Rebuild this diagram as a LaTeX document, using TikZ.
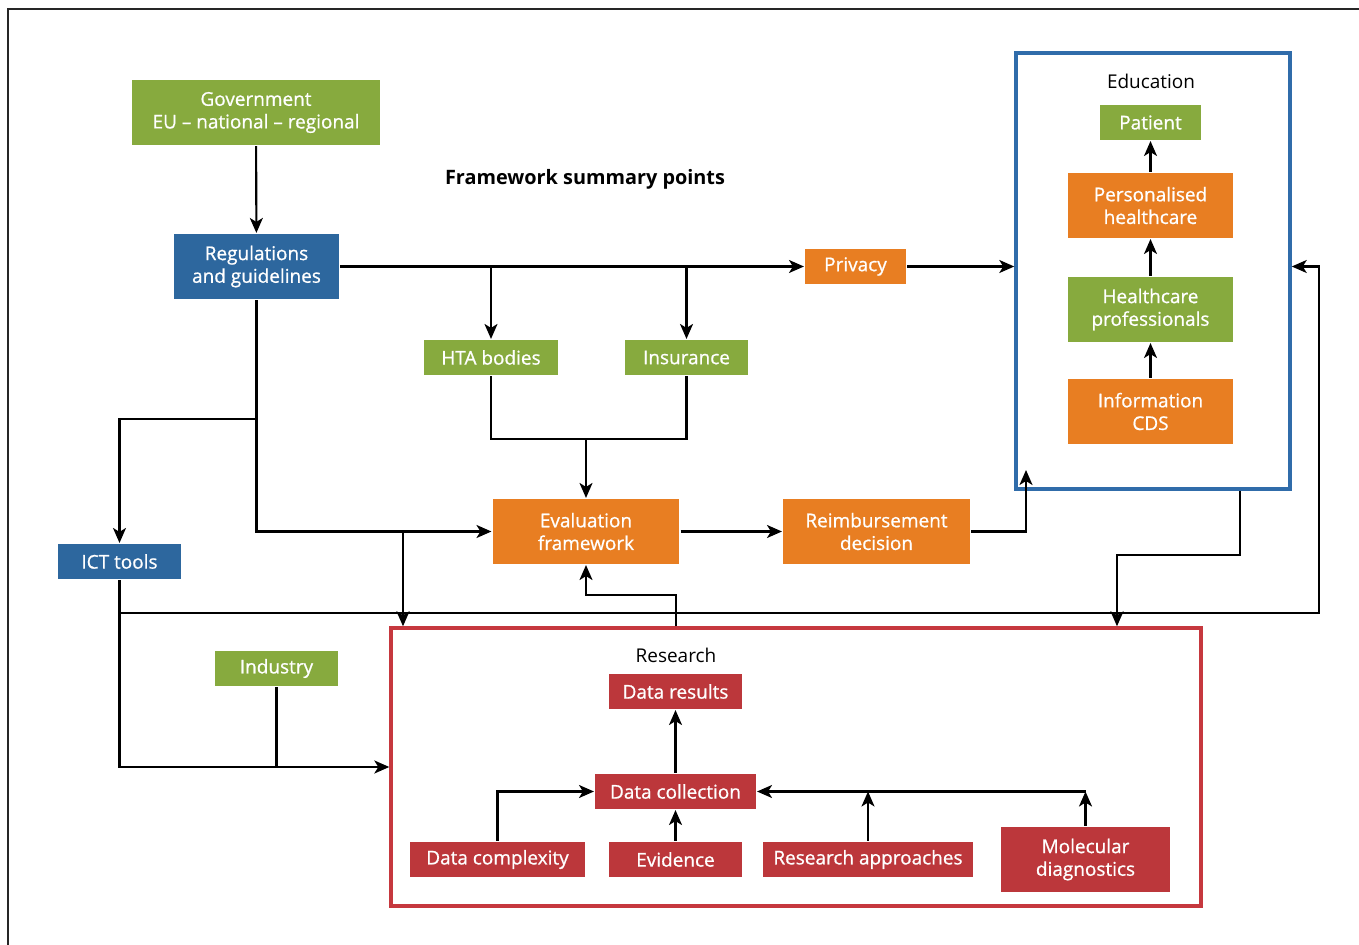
\documentclass[tikz,border=0pt]{standalone}
\usepackage{fontspec}
\setmainfont{Open Sans}
\newfontfamily\semibf{Open Sans}[FakeBold=0.8, Ligatures=TeX]
\usetikzlibrary{arrows.meta}
\usepackage{xcolor}
\definecolor{fwgreen}{RGB}{135,170,62}
\definecolor{fwblue}{RGB}{45,103,158}
\definecolor{fworange}{RGB}{232,126,34}
\definecolor{fwred}{RGB}{188,55,59}
\definecolor{eduline}{RGB}{48,108,170}
\definecolor{resline}{RGB}{198,56,62}

\begin{document}
\begin{tikzpicture}[x=0.02cm, y=-0.02cm, line width=1.2pt, font=\fontsize{10.8}{12.9}\selectfont]
\tikzset{fwbox/.style={text=white, inner sep=0pt, minimum height=0.7cm, align=center, font=\fontsize{10.8}{12.9}\selectfont\semibf} }
\tikzset{tallbox/.style={fwbox, minimum height=1.3cm} }
\tikzset{groupbox/.style={draw, line width=2pt, inner sep=0pt} }
\tikzset{>={Stealth[length=3mm, width=2.6mm, inset=0.8mm]}}
\useasboundingbox (0,0) rectangle (1359,945);
\draw[black!85] (8,945) -- (8,9) -- (1359,9);
% groups
\node[groupbox, draw=eduline, minimum width=5.48cm, minimum height=8.72cm] (edu) at (1153,271) {};
\node[groupbox, draw=resline, minimum width=16.2cm, minimum height=5.56cm] (res) at (796,767) {};
\node (edulbl) at (1151,81) {Education};
\node (reslbl) at (676,655) {Research};
\node[font=\fontsize{11.3}{13.5}\selectfont\bfseries] (title) at (585,179) {Framework summary points};
% policy side
\node[tallbox, fill=fwgreen, minimum width=4.96cm] (gov) at (256,112.5) {Government\\EU – national – regional};
\node[tallbox, fill=fwblue, minimum width=3.3cm] (reg) at (256.5,266.5) {Regulations\\and guidelines};
\node[fwbox, fill=fworange, minimum width=2.02cm] (priv) at (855.5,266.5) {Privacy};
\node[fwbox, fill=fwgreen, minimum width=2.68cm] (hta) at (491,357.5) {HTA bodies};
\node[fwbox, fill=fwgreen, minimum width=2.46cm] (ins) at (686.5,357.5) {Insurance};
\node[tallbox, fill=fworange, minimum width=3.74cm] (evl) at (586,531.5) {Evaluation\\framework};
\node[tallbox, fill=fworange, minimum width=3.74cm] (rmb) at (876.5,531.5) {Reimbursement\\decision};
\node[fwbox, fill=fwblue, minimum width=2.46cm] (ict) at (119.5,561.5) {ICT tools};
\node[fwbox, fill=fwgreen, minimum width=2.46cm] (ind) at (276.5,668.5) {Industry};
% education
\node[fwbox, fill=fwgreen, minimum width=2.02cm] (pat) at (1150.5,122.5) {Patient};
\node[tallbox, fill=fworange, minimum width=3.3cm] (pers) at (1150.5,205.5) {Personalised\\healthcare};
\node[tallbox, fill=fwgreen, minimum width=3.3cm] (hcp) at (1150.5,309.5) {Healthcare\\professionals};
\node[tallbox, fill=fworange, minimum width=3.3cm] (info) at (1150.5,411.5) {Information\\CDS};
% research
\node[fwbox, fill=fwred, minimum width=2.68cm] (dres) at (675.5,691.5) {Data results};
\node[fwbox, fill=fwred, minimum width=3.22cm] (dcol) at (675.5,791.5) {Data collection};
\node[fwbox, fill=fwred, minimum width=3.5cm] (dcx) at (497.5,859.5) {Data complexity};
\node[fwbox, fill=fwred, minimum width=2.68cm] (evd) at (675.5,859.5) {Evidence};
\node[fwbox, fill=fwred, minimum width=4.2cm] (rap) at (868,859.5) {Research approaches};
\node[tallbox, fill=fwred, minimum width=3.38cm] (mol) at (1085.5,859.5) {Molecular\\diagnostics};
% junctions
\coordinate (hj) at (586,439);
\coordinate (ictj) at (256.5,419);
\coordinate (rj) at (403,531.5);
\coordinate (edin) at (1026,470);
\coordinate (e1) at (1240,555);
\coordinate (e2) at (1117,555);
\coordinate (l1) at (119.5,613);
\coordinate (l2) at (1319,613);
\coordinate (r1) at (676,595);
\coordinate (mj) at (1085.5,791.5);
% connectors
\draw[->] (gov) -- (reg);
\draw[->] (reg.east) -- (priv.west);
\draw[->] (reg.east -| hta) -- (hta.north);
\draw[->] (reg.east -| ins) -- (ins.north);
\draw[->] (priv.east) -- (priv.east -| edu.west);
\draw (hta.south) |- (hj) -| (ins.south);
\draw[->] (hj) -- (evl.north);
\draw[->] (reg.south) |- (evl.west);
\draw[->] (ictj) -| (ict.north);
\draw[->] (rj) -- (rj |- res.north);
\draw[->] (evl) -- (rmb);
\draw[->] (rmb.east) -| (edin);
\draw[->] (edu.south -| e1) -- (e1) -- (e2) -- (e2 |- res.north);
\draw[->] (ict.south) |- (res.west);
\draw (ind.south) -- (ind.south |- res.west);
\draw[->] (l1) -- (l2) |- (priv -| edu.east);
\draw[->] (r1 |- res.north) -- (r1) -| (evl.south);
\draw[->] (info) -- (hcp);
\draw[->] (hcp) -- (pers);
\draw[->] (pers) -- (pat);
\draw[->] (dcol) -- (dres);
\draw[->] (dcx.north) |- (dcol.west);
\draw[->] (evd) -- (dcol);
\draw[->] (mol.north) -- (mj);
\draw[->] (mj) -- (dcol.east);
\draw[->] (rap.north) -- (rap.north |- dcol);
\end{tikzpicture}
\end{document}
